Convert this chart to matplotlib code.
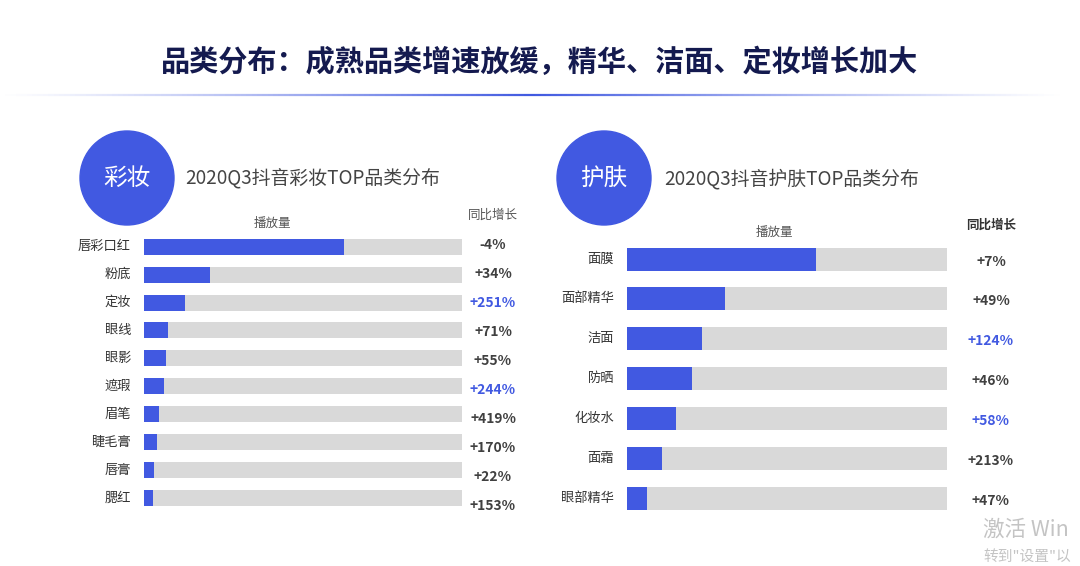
import matplotlib
matplotlib.use("Agg")
import matplotlib.pyplot as plt
from matplotlib.patches import Circle
from matplotlib.collections import LineCollection
import numpy as np

plt.rcParams['font.family'] = ['Noto Sans CJK SC', 'DejaVu Sans']

# 彩妆 data
makeup_cats = ['唇彩口红', '粉底', '定妆', '眼线', '眼影', '遮瑕', '眉笔', '睫毛膏', '唇膏', '腮红']
makeup_play = [0.63, 0.208, 0.129, 0.076, 0.069, 0.063, 0.047, 0.041, 0.032, 0.028]
makeup_yoy = ['-4%', '+34%', '+251%', '+71%', '+55%', '+244%', '+419%', '+170%', '+22%', '+153%']
makeup_hl = [False, False, True, False, False, True, False, False, False, False]

# 护肤 data
skin_cats = ['面膜', '面部精华', '洁面', '防晒', '化妆水', '面霜', '眼部精华']
skin_play = [0.59, 0.306, 0.234, 0.203, 0.153, 0.109, 0.063]
skin_yoy = ['+7%', '+49%', '+124%', '+46%', '+58%', '+213%', '+47%']
skin_hl = [False, False, True, False, True, False, False]

BLUE = '#4159e1'
GREY = '#d9d9d9'
TXT = '#333333'
W, H = 1080, 566

fig = plt.figure(figsize=(W / 100, H / 100), dpi=100)
fig.patch.set_facecolor('white')

# overlay in pixel coords
bg = fig.add_axes([0, 0, 1, 1])
bg.set_xlim(0, W)
bg.set_ylim(H, 0)
bg.axis('off')

bg.text(540, 62, '品类分布：成熟品类增速放缓，精华、洁面、定妆增长加大',
        ha='center', va='center', fontsize=21, fontweight='heavy', color='#141a4f')

# gradient separator line
xs = np.linspace(0, 1065, 200)
segs = [[(xs[i], 95), (xs[i + 1], 95)] for i in range(len(xs) - 1)]
mid = (xs[:-1] + xs[1:]) / 2
alpha = np.clip(1 - np.abs(mid - 532) / 532, 0, 1) ** 1.2
cols = [(0.25, 0.35, 0.88, a) for a in alpha]
bg.add_collection(LineCollection(segs, colors=cols, linewidths=1.6))

for cx, cy, word, sub, tx in [(127, 178, '彩妆', '2020Q3抖音彩妆TOP品类分布', 185),
                              (604, 178, '护肤', '2020Q3抖音护肤TOP品类分布', 664)]:
    bg.add_patch(Circle((cx, cy), 47, color=BLUE))
    bg.text(cx, cy, word, ha='center', va='center', fontsize=17, color='white')
    bg.text(tx, cy + 1, sub, ha='left', va='center', fontsize=13.6, color='#444444')

# watermark (cut off at the right edge in the source)
bg.text(983, 530, '激活 Win', ha='left', va='center', fontsize=15.5, color='#c4c4c4')
bg.text(983, 557, '转到"设置"以', ha='left', va='center', fontsize=10.6, color='#c4c4c4')


def panel(x0, x1, yc0, yc1, cats, vals, yoy, hl, bar_px, lab_x, pct_x,
          head_pct, head_play, fs, pct_off, head_bold):
    n = len(cats)
    step = (yc1 - yc0) / (n - 1)
    top = yc0 - step / 2
    bot = yc1 + step / 2
    ax = fig.add_axes([x0 / W, 1 - bot / H, (x1 - x0) / W, (bot - top) / H])
    ax.set_xlim(0, 1)
    ax.set_ylim(n - 0.5, -0.5)
    y = np.arange(n)
    hgt = bar_px / step
    ax.barh(y, [1] * n, height=hgt, color=GREY)
    ax.barh(y, vals, height=hgt, color=BLUE)
    ax.axis('off')
    px = lambda v: (v - x0) / (x1 - x0)
    for i, c in enumerate(cats):
        ax.text(px(lab_x), i, c, ha='right', va='center', fontsize=fs, color=TXT, clip_on=False)
        ax.text(px(pct_x), i + pct_off(i) / step, yoy[i], ha='center', va='center',
                fontsize=fs + 0.5, fontweight='bold', color=BLUE if hl[i] else '#404040', clip_on=False)
    # headers
    hx, hy = head_pct
    bg.text(hx, hy, '同比增长', ha='center', va='center', fontsize=fs - 0.5,
            color='#333333' if head_bold else '#555555',
            fontweight='bold' if head_bold else 'normal')
    hx, hy = head_play
    bg.text(hx, hy, '播放量', ha='center', va='center', fontsize=fs - 0.5, color='#555555')


panel(144, 462, 246.7, 498, makeup_cats, makeup_play, makeup_yoy, makeup_hl,
      16, 131, 493, (493, 215), (272, 223), 9.5, lambda i: -2 + 1.1 * i, False)
panel(627, 947, 259, 498.7, skin_cats, skin_play, skin_yoy, skin_hl,
      23, 614, 991, (991, 225), (774, 232), 9.5, lambda i: 2.5, True)

fig.savefig('out.png', dpi=100)
